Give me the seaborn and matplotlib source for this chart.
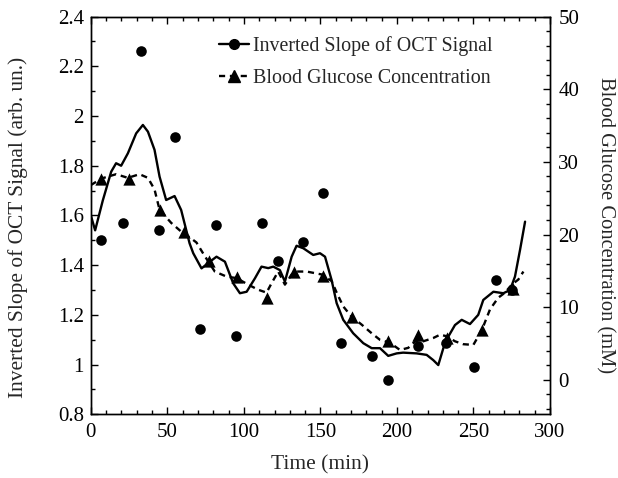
import numpy as np
import pandas as pd
import matplotlib
matplotlib.use('Agg')
import matplotlib.pyplot as plt
from matplotlib.lines import Line2D
from matplotlib.ticker import MultipleLocator
import seaborn as sns

# OCT slope measurements (circles, left axis)
oct_time = [6.5, 21, 33, 44.4, 55, 71, 82, 95, 112, 122, 138.7, 151.4,
            163.4, 183.4, 193.9, 213.9, 232, 250.3, 264.7, 275.4]
oct_slope = [1.50, 1.57, 2.26, 1.54, 1.915, 1.143, 1.56, 1.116, 1.57, 1.416, 1.495, 1.689,
             1.086, 1.036, 0.938, 1.075, 1.088, 0.99, 1.34, 1.30]

# smoothed OCT curve (solid line)
oct_fit_time = [0, 2.8, 7.8, 13.3, 16.5, 19.8, 24.2, 29.6, 34, 37.3, 41.6, 44.9, 49.2, 54.7,
                59, 64.5, 66.9, 72.3, 77.8, 82.1, 87.6, 93, 97.4, 101.8, 107.2, 111.5, 115.9,
                119.2, 123.5, 126.8, 131.2, 134.4, 138.8, 145.3, 149.7, 153, 157.3, 160.6,
                164.9, 171.4, 178, 183.5, 188.9, 194.3, 199.8, 204, 212.9, 219.4, 223.7, 227,
                230.3, 233.5, 237.9, 242.3, 247.7, 253.1, 256.4, 263, 269.5, 273.9, 277.1,
                280.4, 283.7]
oct_fit = [1.60, 1.54, 1.66, 1.776, 1.81, 1.80, 1.85, 1.93, 1.964, 1.937, 1.864, 1.756, 1.662,
           1.678, 1.622, 1.488, 1.448, 1.387, 1.414, 1.434, 1.414, 1.327, 1.287, 1.293, 1.347,
           1.394, 1.388, 1.394, 1.38, 1.334, 1.434, 1.478, 1.468, 1.441, 1.448, 1.434, 1.34,
           1.247, 1.18, 1.126, 1.086, 1.066, 1.066, 1.035, 1.045, 1.048, 1.045, 1.039, 1.018,
           0.998, 1.066, 1.112, 1.159, 1.18, 1.163, 1.20, 1.26, 1.293, 1.287, 1.30, 1.354,
           1.461, 1.575]

# blood glucose samples (triangles, right axis)
bg_time = [6.9, 25, 45.1, 60.8, 77, 95.4, 115.2, 132.9, 151.4, 170.3, 194.3, 213.9,
           232.5, 255.3, 275.8]
bg_conc = [27.7, 27.7, 23.4, 20.4, 16.4, 14.2, 11.2, 14.9, 14.3, 8.7, 5.3, 6.1,
           5.75, 6.9, 12.5]

# interpolated glucose curve (dashed line)
bg_fit_time = [0, 6.8, 16.5, 24.2, 31.8, 37.3, 41.6, 44.9, 52.5, 60.1, 64.7, 69, 74.5, 81,
               88.7, 95.2, 102.8, 109.3, 114.8, 118.1, 122.4, 126.8, 131.2, 134.4, 141,
               150.8, 157.3, 160.6, 164.9, 170.3, 176.9, 183.5, 188.9, 195.4, 202, 207.4,
               211.8, 217.2, 223.7, 228.1, 232.5, 237.9, 243.3, 249.9, 252.5, 256.4, 260.8,
               266.2, 270.6, 275, 279.3, 282.6]
bg_fit = [26.8, 27.7, 28.3, 27.8, 28.3, 27.8, 26.2, 23.4, 21.6, 20.2, 19.6, 18.9, 17.0, 14.9,
          14.2, 14.0, 13.1, 12.4, 12.0, 13.3, 14.9, 13.1, 14.5, 14.9, 14.9, 14.5, 13.6, 12.0,
          10.1, 8.7, 7.6, 6.4, 5.5, 5.1, 4.1, 4.4, 5.3, 5.3, 5.75, 6.2, 6.0, 5.3, 4.9, 4.8,
          5.75, 7.35, 9.7, 11.3, 12.0, 13.1, 13.8, 14.9]

sns.set_style('ticks')
plt.rcParams['font.family'] = ['Liberation Serif', 'DejaVu Serif']

fig = plt.figure(figsize=(6.18, 4.78), dpi=100)
ax = fig.add_axes([0.147, 0.1333, 0.743, 0.832])
ax2 = ax.twinx()

oct_df = pd.DataFrame({'t': oct_time, 'v': oct_slope})
oct_fit_df = pd.DataFrame({'t': oct_fit_time, 'v': oct_fit})
bg_df = pd.DataFrame({'t': bg_time, 'v': bg_conc})
bg_fit_df = pd.DataFrame({'t': bg_fit_time, 'v': bg_fit})

dash = (0, (2.6, 2.0))

sns.lineplot(data=oct_fit_df, x='t', y='v', ax=ax, color='black', lw=1.7,
             sort=False, estimator=None)
sns.scatterplot(data=oct_df, x='t', y='v', ax=ax, color='black', s=58,
                marker='o', edgecolor='black', linewidth=0)

sns.lineplot(data=bg_fit_df, x='t', y='v', ax=ax2, color='black', lw=1.7,
             sort=False, estimator=None)
ax2.lines[-1].set_linestyle(dash)
sns.scatterplot(data=bg_df, x='t', y='v', ax=ax2, color='black', s=78,
                marker='^', edgecolor='black', linewidth=0)

ax.set_xlim(0, 300)
ax2.set_ylim(-4.75, 50)

ax.xaxis.set_major_locator(MultipleLocator(50))
ax.xaxis.set_minor_locator(MultipleLocator(10))
ax.yaxis.set_minor_locator(MultipleLocator(0.1))
ax2.yaxis.set_major_locator(MultipleLocator(10))
ax2.yaxis.set_minor_locator(MultipleLocator(2))
ax.set_yticks([0.8, 1.0, 1.2, 1.4, 1.6, 1.8, 2.0, 2.2, 2.4])
ax.set_yticklabels(['0.8', '1', '1.2', '1.4', '1.6', '1.8', '2', '2.2', '2.4'])
ax.set_ylim(0.8, 2.4)

for a in (ax, ax2):
    for s in a.spines.values():
        s.set_visible(True)
        s.set_linewidth(1.0)
        s.set_color('black')
ax.tick_params(axis='x', which='both', direction='in', top=True, bottom=True,
               labelsize=15, pad=6, colors='black')
ax.tick_params(axis='y', which='both', direction='in', left=True, right=False,
               labelsize=15, pad=5, colors='black')
ax2.tick_params(axis='y', which='both', direction='in', right=True, left=False,
                labelsize=15, pad=6, colors='black')
for a in (ax, ax2):
    a.tick_params(which='major', length=5, width=1)
    a.tick_params(which='minor', length=3, width=1)

ax.set_xlabel('Time (min)', fontsize=15.5, va='center')
ax.xaxis.set_label_coords(0.5, -0.1275)
ax.set_ylabel('Inverted Slope of OCT Signal (arb. un.)', fontsize=15.4, va='center')
ax.yaxis.set_label_coords(-0.159, 0.469)
ax2.set_ylabel('Blood Glucose Concentration (mM)', fontsize=14.8, rotation=270, va='center')
ax2.yaxis.set_label_coords(1.121, 0.477)

handles = [
    Line2D([], [], color='black', lw=1.7, marker='o', markersize=7),
    Line2D([], [], color='black', lw=1.7, ls=dash, marker='^', markersize=8),
]
ax2.legend(handles, ['Inverted Slope of OCT Signal', 'Blood Glucose Concentration'],
           loc='upper right', bbox_to_anchor=(0.893, 0.97), borderaxespad=0,
           frameon=False, fontsize=14.4, handlelength=1.5, handletextpad=0.2,
           labelspacing=0.65)

fig.savefig('out.png', dpi=100)
